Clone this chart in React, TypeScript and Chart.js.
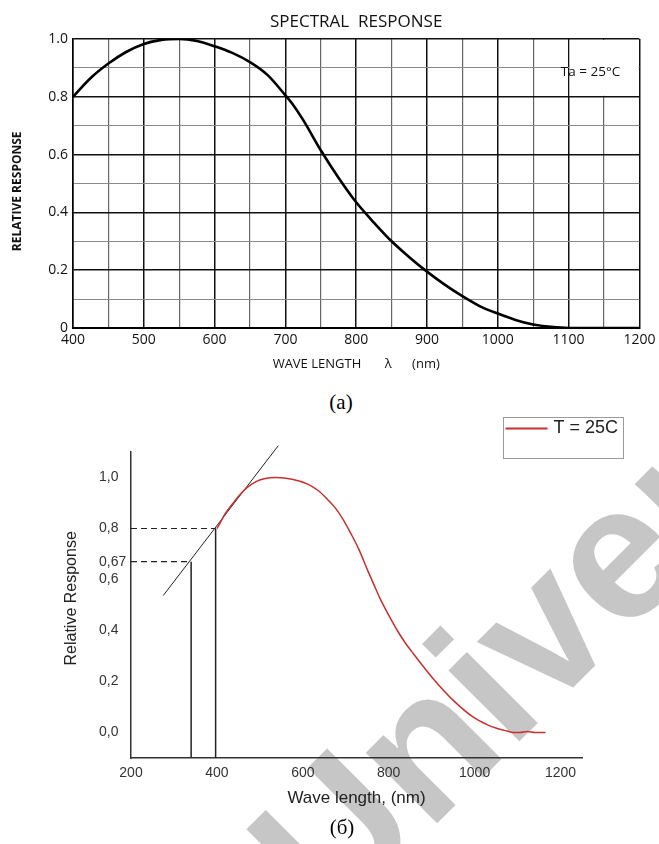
import React, { useEffect, useRef } from 'react';
import { Chart, registerables } from 'chart.js';

Chart.register(...registerables);

// ---------- (a) SPECTRAL RESPONSE ----------
const topTitle = 'SPECTRAL  RESPONSE';
const topXTitle = 'WAVE LENGTH       λ      (nm)';
const topYTitle = 'RELATIVE RESPONSE     ';
const topNote = 'Ta = 25°C';
const topWavelength = [400, 425, 450, 475, 500, 525, 550, 575, 600, 625, 650, 675, 700, 710, 725, 750, 775, 800, 825, 850, 875, 900, 925, 950, 975, 1000, 1025, 1050, 1075, 1100, 1150, 1200];
const topResponse = [0.8, 0.865, 0.915, 0.955, 0.983, 0.997, 1.0, 0.993, 0.975, 0.952, 0.92, 0.875, 0.805, 0.775, 0.72, 0.615, 0.52, 0.435, 0.365, 0.3, 0.245, 0.195, 0.15, 0.11, 0.075, 0.05, 0.028, 0.012, 0.004, 0, 0, 0];

// ---------- (б) Relative response ----------
const botSeriesLabel = 'T = 25C';
const botXTitle = 'Wave length, (nm)';
const botYTitle = '   Relative Response';
const botWavelength = [400, 407, 420, 438, 455, 470, 490, 510, 540, 575, 610, 635, 657, 676, 694, 712, 730, 752, 766, 780, 800, 820, 838, 857, 904, 951, 997, 1030, 1053, 1075, 1090, 1105, 1123, 1140, 1165];
const botResponse = [0.8, 0.82, 0.86, 0.9, 0.935, 0.96, 0.983, 0.995, 1.0, 0.993, 0.975, 0.95, 0.915, 0.88, 0.835, 0.78, 0.72, 0.632, 0.578, 0.525, 0.46, 0.4, 0.353, 0.31, 0.21, 0.125, 0.06, 0.03, 0.016, 0.006, 0.0, 0.0, 0.004, 0.0, 0.0];
const tangentX = [275, 543];
const tangentY = [0.537, 1.125];
const markLevels = [0.67, 0.8];
const markWavelengths = [340, 397];
const botXTicks = [200, 400, 600, 800, 1000, 1200];
const botYTicks = [0, 0.2, 0.4, 0.6, 0.67, 0.8, 1.0];
const watermarkText = 'University';

const OPEN = "'Open Sans', 'DejaVu Sans', sans-serif";
const ARIAL = "'Liberation Sans', Arial, sans-serif";

const taBoxPlugin = {
  id: 'taBox',
  beforeDatasetsDraw(chart: any) {
    const { ctx } = chart;
    const x = chart.scales.x;
    const y = chart.scales.y;
    const l = x.getPixelForValue(1100) + 1;
    const r = x.getPixelForValue(1200) - 1;
    const t = y.getPixelForValue(1.0) + 1;
    const b = y.getPixelForValue(0.8) - 1;
    ctx.save();
    ctx.fillStyle = '#ffffff';
    ctx.fillRect(l, t, r - l, b - t);
    ctx.fillStyle = '#111';
    ctx.font = `13.5px ${OPEN}`;
    ctx.textAlign = 'center';
    ctx.textBaseline = 'middle';
    ctx.fillText(topNote, x.getPixelForValue(1131), y.getPixelForValue(0.886));
    ctx.restore();
  },
};

const legendBoxPlugin = {
  id: 'legendBox',
  afterDraw(chart: any) {
    const { ctx } = chart;
    const ds = chart.data.datasets[0];
    const bx = 503.5, by = 37.5, bw = 120, bh = 41;
    ctx.save();
    ctx.fillStyle = '#fff';
    ctx.fillRect(bx, by, bw, bh);
    ctx.strokeStyle = '#9a9a9a';
    ctx.lineWidth = 1;
    ctx.strokeRect(bx, by, bw, bh);
    ctx.strokeStyle = ds.borderColor;
    ctx.lineWidth = 2;
    ctx.beginPath();
    ctx.moveTo(bx + 2, by + 11);
    ctx.lineTo(bx + 44, by + 11);
    ctx.stroke();
    ctx.fillStyle = '#222';
    ctx.font = `18px ${ARIAL}`;
    ctx.textAlign = 'left';
    ctx.textBaseline = 'middle';
    ctx.fillText(ds.label, bx + 50, by + 11);
    ctx.restore();
  },
};

export default function App() {
  const topRef = useRef<HTMLCanvasElement>(null);
  const botRef = useRef<HTMLCanvasElement>(null);

  useEffect(() => {
    const isMajorX = (v: number) => v % 100 === 0;
    const isMajorY = (v: number) => Math.round(v * 10) % 2 === 0;

    const c1 = new Chart(topRef.current as HTMLCanvasElement, {
      type: 'line',
      data: {
        datasets: [
          {
            label: 'Spectral response',
            data: topWavelength.map((w, i) => ({ x: w, y: topResponse[i] })),
            borderColor: '#000',
            borderWidth: 2.6,
            pointRadius: 0,
            cubicInterpolationMode: 'monotone',
            fill: false,
          },
        ],
      },
      options: {
        responsive: false,
        animation: false,
        layout: { padding: { left: 0, right: 16, top: 0, bottom: 0 } },
        plugins: { legend: { display: false }, tooltip: { enabled: false }, title: { display: false } },
        scales: {
          x: {
            type: 'linear',
            min: 400,
            max: 1200,
            afterFit: (s: any) => { s.height = 52; },
            ticks: {
              stepSize: 50,
              autoSkip: false,
              maxRotation: 0,
              padding: 3.6,
              color: '#111',
              font: { family: OPEN, size: 14 },
              callback: (v: any) => (isMajorX(Number(v)) ? String(v) : ''),
            },
            grid: {
              drawTicks: false,
              color: (c: any) => (isMajorX(c.tick.value) ? '#111' : '#666'),
              lineWidth: (c: any) => (isMajorX(c.tick.value) ? 1.5 : 1.2),
            },
            border: { display: true, color: '#000', width: 2 },
            title: {
              display: true,
              text: topXTitle,
              color: '#111',
              font: { family: OPEN, size: 13 },
              padding: { top: 0, bottom: 8.4 },
            },
          },
          x2: {
            type: 'linear',
            axis: 'x',
            position: 'top',
            min: 400,
            max: 1200,
            afterFit: (s: any) => { s.height = 39; },
            ticks: { display: false },
            grid: { display: false, drawTicks: false },
            border: { display: false },
            title: {
              display: true,
              text: topTitle,
              color: '#111',
              font: { family: OPEN, size: 17 },
              padding: { top: 11.8, bottom: 0 },
            },
          },
          y: {
            type: 'linear',
            min: 0,
            max: 1,
            afterFit: (s: any) => { s.width = 73; },
            ticks: {
              stepSize: 0.1,
              padding: 5,
              color: '#111',
              font: { family: OPEN, size: 14 },
              callback: (v: any) => {
                const r = Math.round(Number(v) * 10);
                if (r % 2 !== 0) return '';
                return r === 0 ? '0' : (r / 10).toFixed(1);
              },
            },
            grid: {
              drawTicks: false,
              color: (c: any) => (isMajorY(c.tick.value) ? '#111' : '#8a8a8a'),
              lineWidth: (c: any) => (isMajorY(c.tick.value) ? 1.5 : 1.1),
            },
            border: { display: true, color: '#000', width: 1.5 },
            title: {
              display: true,
              text: topYTitle,
              color: '#111',
              font: { family: OPEN, size: 12, weight: 'bold' },
              padding: { top: 10.8, bottom: 0 },
            },
          },
        },
      } as any,
      plugins: [taBoxPlugin],
    });

    const thin = { pointRadius: 0, fill: false, borderColor: '#222', tension: 0 };
    const c2 = new Chart(botRef.current as HTMLCanvasElement, {
      type: 'line',
      data: {
        datasets: [
          {
            label: botSeriesLabel,
            data: botWavelength.map((w, i) => ({ x: w, y: botResponse[i] })),
            borderColor: '#c8302c',
            borderWidth: 1.5,
            pointRadius: 0,
            cubicInterpolationMode: 'monotone',
            fill: false,
          },
          {
            ...thin,
            label: 'tangent',
            data: tangentX.map((w, i) => ({ x: w, y: tangentY[i] })),
            borderWidth: 1,
            clip: false,
          },
          ...markLevels.map((lv, i) => ({
            ...thin,
            label: 'level ' + lv,
            data: [{ x: 200, y: lv }, { x: markWavelengths[i], y: lv }],
            borderWidth: 1.2,
            borderDash: [6, 4],
          })),
          ...markWavelengths.map((w, i) => ({
            ...thin,
            label: 'drop ' + w,
            data: [{ x: w, y: -0.1 }, { x: w, y: markLevels[i] }],
            borderWidth: 1.5,
          })),
        ],
      },
      options: {
        responsive: false,
        animation: false,
        layout: { padding: { left: 99, right: 77, top: 72, bottom: 0 } },
        plugins: { legend: { display: false }, tooltip: { enabled: false } },
        scales: {
          x: {
            type: 'linear',
            min: 200,
            max: 1250,
            afterBuildTicks: (s: any) => { s.ticks = botXTicks.map((v) => ({ value: v })); },
            afterFit: (s: any) => { s.height = 86; },
            ticks: {
              autoSkip: false,
              maxRotation: 0,
              padding: 6.6,
              color: '#333',
              font: { family: ARIAL, size: 14 },
              callback: (v: any) => String(v),
            },
            grid: { display: false, drawTicks: false },
            border: { display: true, color: '#333', width: 1.5 },
            title: {
              display: true,
              text: botXTitle,
              color: '#222',
              font: { family: ARIAL, size: 17 },
              padding: { top: 0, bottom: 35.8 },
            },
          },
          y: {
            type: 'linear',
            min: -0.1,
            max: 1.1,
            afterBuildTicks: (s: any) => { s.ticks = botYTicks.map((v) => ({ value: v })); },
            afterFit: (s: any) => { s.width = 32; },
            ticks: {
              crossAlign: 'far',
              color: '#333',
              font: { family: ARIAL, size: 14 },
              callback: (v: any) => (Number(v) === 0.67 ? '0,67' : Number(v).toFixed(1).replace('.', ',')),
            },
            grid: { display: false, drawTicks: false },
            border: { display: true, color: '#333', width: 1.5 },
            title: {
              display: true,
              text: botYTitle,
              color: '#222',
              font: { family: ARIAL, size: 16 },
              padding: { top: -36.6, bottom: 0 },
            },
          },
        },
      } as any,
      plugins: [legendBoxPlugin],
    });

    return () => {
      c1.destroy();
      c2.destroy();
    };
  }, []);

  const serif = "'Liberation Serif', 'Times New Roman', serif";
  return (
    <div style={{ position: 'absolute', left: 0, top: 0, width: 659, height: 844, overflow: 'hidden', background: '#fff' }}>
      <div style={{ position: 'absolute', left: 217, top: 816, transform: 'rotate(-45deg)', transformOrigin: '0 0', fontFamily: ARIAL, fontWeight: 'bold', fontSize: 190, lineHeight: 1, color: '#c6c6c6', whiteSpace: 'nowrap', pointerEvents: 'none' }}>{watermarkText}</div>
      <canvas ref={topRef} width={659} height={380} style={{ position: 'absolute', left: 0, top: 0, width: 659, height: 380 }} />
      <div style={{ position: 'absolute', left: 241, top: 392, width: 200, textAlign: 'center', fontFamily: serif, fontSize: 21, lineHeight: '21px', color: '#000' }}>(a)</div>
      <canvas ref={botRef} width={659} height={464} style={{ position: 'absolute', left: 0, top: 380, width: 659, height: 464 }} />
      <div style={{ position: 'absolute', left: 242, top: 817, width: 200, textAlign: 'center', fontFamily: serif, fontSize: 21, lineHeight: '21px', color: '#000' }}>(б)</div>
    </div>
  );
}
